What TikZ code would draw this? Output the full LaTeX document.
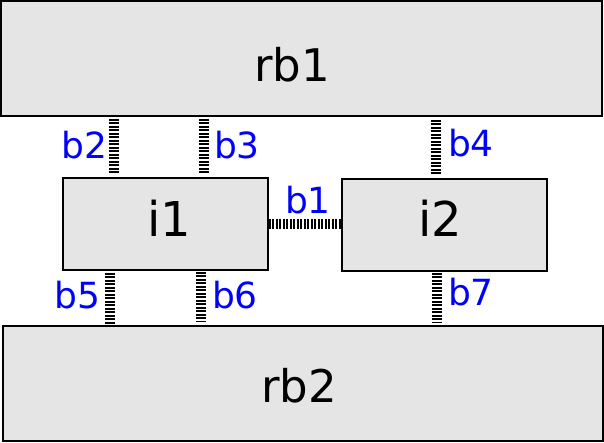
\documentclass[tikz,border=0pt]{standalone}
\usepackage{fontspec}
\setmainfont{DejaVu Sans}
\usetikzlibrary{calc}
\definecolor{cfill}{HTML}{E5E5E5}
\definecolor{cblue}{HTML}{0000FF}
\tikzset{
  every picture/.style={x=1pt, y=-1pt},
  box/.style={draw=black, fill=cfill, line width=1.8pt, inner sep=0pt},
  boxtext/.style={anchor=base, inner sep=0pt, font=\fontsize{#1}{#1}\selectfont},
  bond/.style={draw=black, line width=10pt, dash pattern=on 2pt off 1.5pt},
  blabel/.style={anchor=base, inner sep=0pt, text=cblue, font=\fontsize{36}{36}\selectfont},
}

\begin{document}
\begin{tikzpicture}
  \useasboundingbox (0,0) rectangle (604,443);
  % boxes
  \node[box, minimum width=601pt, minimum height=115pt] (rb1) at (301.5,58.5) {};
  \node[box, minimum width=205pt, minimum height=92pt] (i1) at (165.5,224) {};
  \node[box, minimum width=205pt, minimum height=92pt] (i2) at (444.5,225) {};
  \node[box, minimum width=600pt, minimum height=115pt] (rb2) at (303,383.5) {};
  \node[boxtext=45] (rb1t) at (292,82) {rb1};
  \node[boxtext=48] (i1t) at (169,237) {i1};
  \node[boxtext=48] (i2t) at (440,237) {i2};
  \node[boxtext=45] (rb2t) at (299,402) {rb2};
  % bond positions
  \coordinate (x2) at (114,0);
  \coordinate (x3) at (204,0);
  \coordinate (x4) at (436,0);
  \coordinate (x5) at (110,0);
  \coordinate (x6) at (201,0);
  \coordinate (x7) at (437,0);
  \coordinate (y1) at (0,224);
  % bonds
  \draw[bond] (y1 -| i1.east) -- (y1 -| i2.west);
  \draw[bond, shorten <=2pt, shorten >=4pt] (x2 |- rb1.south) -- (x2 |- i1.north);
  \draw[bond, shorten <=2pt, shorten >=3pt] (x3 |- rb1.south) -- (x3 |- i1.north);
  \draw[bond, shorten <=3pt, shorten >=4pt] (x4 |- rb1.south) -- (x4 |- i2.north);
  \draw[bond, shorten <=2pt] (x5 |- i1.south) -- (x5 |- rb2.north);
  \draw[bond, shorten <=1pt, shorten >=3pt] (x6 |- i1.south) -- (x6 |- rb2.north);
  \draw[bond, shorten <=1pt, shorten >=2pt] (x7 |- i2.south) -- (x7 |- rb2.north);
  % labels
  \node[blabel] (b1) at (308,214) {b1};
  \node[blabel] (b2) at (84.5,159) {b2};
  \node[blabel] (b3) at (237,159) {b3};
  \node[blabel] (b4) at (471,157) {b4};
  \node[blabel] (b5) at (77.5,308) {b5};
  \node[blabel] (b6) at (235,308) {b6};
  \node[blabel] (b7) at (471,305) {b7};
\end{tikzpicture}
\end{document}
